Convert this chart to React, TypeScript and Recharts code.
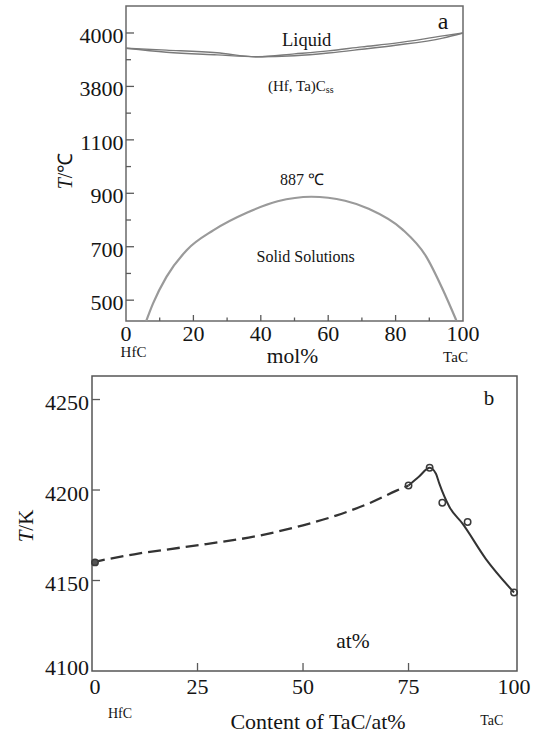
import React from 'react';
import { LineChart, Line, XAxis, YAxis, ReferenceArea } from 'recharts';

const FONT = '"Liberation Serif", "Times New Roman", serif';

// ---------- Panel a data ----------
const molTicks = [0, 10, 20, 30, 40, 50, 60, 70, 80, 90, 100];
const tempLabelsA = [500, 700, 900, 1100, 3800, 4000];
const BREAK_SHIFT = 2500; // axis break between 1100 and 3800

const liqX = [0, 12, 27, 39, 50, 60, 70, 80, 94, 100];
const liqUpperT = [3943, 3936, 3926, 3911, 3922, 3933, 3948, 3962, 3989, 4000];
const liqLowerT = [3943, 3928, 3918, 3911, 3915, 3925, 3939, 3954, 3981, 4000];

const solvusX = [6, 8, 12, 18, 26, 36, 45, 55, 65, 72, 82, 89, 94, 98];
const solvusT = [422, 487, 587, 687, 762, 828, 870, 887, 872, 842, 765, 665, 540, 425];

// ---------- Panel b data ----------
const contentTicks = [0, 25, 50, 75, 100];
const tempTicksB = [4100, 4150, 4200, 4250];

const dashX = [0, 2, 10, 22, 40, 50, 58, 66, 72, 75];
const dashT = [4160, 4161, 4164.5, 4168.5, 4175, 4180.5, 4186, 4193, 4199.5, 4202.5];

const solidX = [75, 77.5, 80, 81.5, 82.3, 84.7, 87.8, 93.3, 100];
const solidT = [4202.5, 4207.5, 4212.3, 4209, 4203.5, 4190.6, 4181.4, 4162, 4143.4];

const measX = [0, 75, 80, 83, 89, 100];
const measT = [4160, 4202.5, 4212.3, 4193, 4182.3, 4143.4];

// ---------- helpers ----------
const toAxisA = (t: number) => (t > 2000 ? t - BREAK_SHIFT : t);
const zip = (xs: number[], ys: number[], f: (v: number) => number = (v) => v) =>
  xs.map((x, i) => ({ x, t: f(ys[i]) }));

const majorPosA = tempLabelsA.map(toAxisA);
const minorPosA = majorPosA.slice(1).map((p, i) => (p + majorPosA[i]) / 2);
const ticksA = [...majorPosA, ...minorPosA].sort((a, b) => a - b);

const A = { left: 126, top: 6, right: 463, bottom: 321, h: 370 };
const B = { left: 92, top: 6, right: 517, bottom: 301, h: 365 };

const TXT = '#151515';
const AXC = '#5a5a5a';

const MolTick = (props: any) => {
  const { x, payload } = props;
  const v = payload.value;
  const major = v % 20 === 0;
  return (
    <g>
      {v > 0 && v < 100 && (
        <line x1={x} x2={x} y1={A.bottom} y2={A.bottom - (major ? 6 : 3.5)} stroke={AXC} strokeWidth={1.3} />
      )}
      {major && (
        <text x={x} y={A.bottom + 19.5} textAnchor="middle" fontSize={22} fontFamily={FONT} fill={TXT}>
          {v}
        </text>
      )}
    </g>
  );
};

const TempTickA = (props: any) => {
  const { y, payload } = props;
  const v = payload.value;
  const idx = majorPosA.indexOf(v);
  const major = idx >= 0;
  return (
    <g>
      <line x1={A.left} x2={A.left + (major ? 8 : 5)} y1={y} y2={y} stroke={AXC} strokeWidth={1.3} />
      {major && (
        <text x={A.left - 2.5} y={y + 10} textAnchor="end" fontSize={22} fontFamily={FONT} fill={TXT}>
          {tempLabelsA[idx]}
        </text>
      )}
    </g>
  );
};

const ContentTick = (props: any) => {
  const { x, payload } = props;
  const v = payload.value;
  const dx = v === 0 ? 3 : 0;
  return (
    <g>
      {v > 0 && v < 100 && (
        <line x1={x} x2={x} y1={B.bottom} y2={B.bottom - 8} stroke={AXC} strokeWidth={1.3} />
      )}
      <text x={x + dx} y={B.bottom + 22.5} textAnchor="middle" fontSize={22} fontFamily={FONT} fill={TXT}>
        {v}
      </text>
    </g>
  );
};

const TempTickB = (props: any) => {
  const { y, payload } = props;
  const v = payload.value;
  const bottom = v === tempTicksB[0];
  return (
    <g>
      {!bottom && <line x1={B.left} x2={B.left + 8} y1={y} y2={y} stroke={AXC} strokeWidth={1.3} />}
      <text x={B.left - 3} y={y + (bottom ? 4 : 10.5)} textAnchor="end" fontSize={22} fontFamily={FONT} fill={TXT}>
        {v}
      </text>
    </g>
  );
};

const MeasDot = (props: any) => {
  const { cx, cy, index } = props;
  if (cx == null || cy == null) return null;
  const first = index === 0;
  return (
    <circle
      key={`d${index}`}
      cx={first ? cx + 3 : cx}
      cy={cy}
      r={3.2}
      stroke="#3a3a3a"
      strokeWidth={1.5}
      fill={first ? '#555' : 'none'}
    />
  );
};

const PanelA = () => (
  <LineChart
    width={541}
    height={A.h}
    margin={{ top: A.top, right: 541 - A.right, bottom: 0, left: 0 }}
    style={{ position: 'absolute', left: 0, top: 0 }}
  >
    <XAxis
      type="number"
      dataKey="x"
      domain={[0, 100]}
      ticks={molTicks}
      interval={0}
      axisLine={false}
      tickLine={false}
      height={A.h - A.bottom}
      tick={MolTick}
    />
    <YAxis
      type="number"
      dataKey="t"
      domain={[422, 1601]}
      allowDataOverflow
      ticks={ticksA}
      interval={0}
      axisLine={false}
      tickLine={false}
      width={A.left}
      tick={TempTickA}
    />
    <ReferenceArea x1={0} x2={100} y1={422} y2={1601} fill="none" stroke="#6a6a6a" strokeWidth={1.5} />
    <Line data={zip(liqX, liqUpperT, toAxisA)} dataKey="t" type="monotone" stroke="#7a7a7a" strokeWidth={1.4} dot={false} isAnimationActive={false} />
    <Line data={zip(liqX, liqLowerT, toAxisA)} dataKey="t" type="monotone" stroke="#7a7a7a" strokeWidth={1.4} dot={false} isAnimationActive={false} />
    <Line data={zip(solvusX, solvusT, toAxisA)} dataKey="t" type="monotone" stroke="#9a9a9a" strokeWidth={2.2} dot={false} isAnimationActive={false} />
    <text x={306.7} y={45.5} textAnchor="middle" fontSize={18.5} fontFamily={FONT} style={{ fontFamily: FONT }} fill={TXT}>Liquid</text>
    <text x={268} y={91} fontSize={15} fontFamily={FONT} style={{ fontFamily: FONT }} fill={TXT}>
      (Hf, Ta)C<tspan fontSize={10} dy={2}>ss</tspan>
    </text>
    <text x={280} y={185} fontSize={16} fontFamily={FONT} style={{ fontFamily: FONT }} fill={TXT}>887  ℃</text>
    <text x={256.5} y={261.5} fontSize={16} fontFamily={FONT} style={{ fontFamily: FONT }} fill={TXT}>Solid Solutions</text>
    <text x={443} y={28.5} textAnchor="middle" fontSize={24} fontFamily={FONT} style={{ fontFamily: FONT }} fill={TXT}>a</text>
    <text x={133.5} y={356.5} textAnchor="middle" fontSize={15} fontFamily={FONT} style={{ fontFamily: FONT }} fill={TXT}>HfC</text>
    <text x={455.5} y={361.5} textAnchor="middle" fontSize={15} fontFamily={FONT} style={{ fontFamily: FONT }} fill={TXT}>TaC</text>
    <text x={292.5} y={362.5} textAnchor="middle" fontSize={21.5} fontFamily={FONT} style={{ fontFamily: FONT }} fill={TXT}>mol%</text>
    <text x={72} y={171} textAnchor="middle" fontSize={20} fontFamily={FONT} style={{ fontFamily: FONT }} fill={TXT} transform="rotate(-90 72 171)">
      <tspan fontStyle="italic">T</tspan>/℃
    </text>
  </LineChart>
);

const PanelB = () => (
  <LineChart
    width={541}
    height={B.h}
    margin={{ top: B.top, right: 541 - B.right, bottom: 0, left: 0 }}
    style={{ position: 'absolute', left: 0, top: 370 }}
  >
    <XAxis
      type="number"
      dataKey="x"
      domain={[0, 100.7]}
      ticks={contentTicks}
      interval={0}
      axisLine={false}
      tickLine={false}
      height={B.h - B.bottom}
      tick={ContentTick}
    />
    <YAxis
      type="number"
      dataKey="t"
      domain={[4100, 4263]}
      allowDataOverflow
      ticks={tempTicksB}
      interval={0}
      axisLine={false}
      tickLine={false}
      width={B.left}
      tick={TempTickB}
    />
    <ReferenceArea x1={0} x2={100.7} y1={4100} y2={4263} fill="none" stroke="#555" strokeWidth={1.5} />
    <Line data={zip(dashX, dashT)} dataKey="t" type="monotone" stroke="#333" strokeWidth={2.3} strokeDasharray="13 6" dot={false} isAnimationActive={false} />
    <Line data={zip(solidX, solidT)} dataKey="t" type="monotone" stroke="#333" strokeWidth={2} dot={false} isAnimationActive={false} />
    <Line
      data={zip(measX, measT)}
      dataKey="t"
      stroke="none"
      strokeWidth={0}
      dot={MeasDot}
      isAnimationActive={false}
    />
    <text x={489} y={34.5} textAnchor="middle" fontSize={21} fontFamily={FONT} style={{ fontFamily: FONT }} fill={TXT}>b</text>
    <text x={353} y={277.5} textAnchor="middle" fontSize={21.5} fontFamily={FONT} style={{ fontFamily: FONT }} fill={TXT}>at%</text>
    <text x={120} y={347.5} textAnchor="middle" fontSize={14} fontFamily={FONT} style={{ fontFamily: FONT }} fill={TXT}>HfC</text>
    <text x={491.7} y={354.5} textAnchor="middle" fontSize={14} fontFamily={FONT} style={{ fontFamily: FONT }} fill={TXT}>TaC</text>
    <text x={318} y={358.5} textAnchor="middle" fontSize={22} fontFamily={FONT} style={{ fontFamily: FONT }} fill={TXT}>Content of TaC/at%</text>
    <text x={33} y={156} textAnchor="middle" fontSize={21} fontFamily={FONT} style={{ fontFamily: FONT }} fill={TXT} transform="rotate(-90 33 156)">
      <tspan fontStyle="italic">T</tspan>/K
    </text>
  </LineChart>
);

export default function App() {
  return (
    <div style={{ position: 'absolute', left: 0, top: 0, width: 541, height: 735, background: '#fff', fontFamily: FONT }}>
      <PanelA />
      <PanelB />
    </div>
  );
}
